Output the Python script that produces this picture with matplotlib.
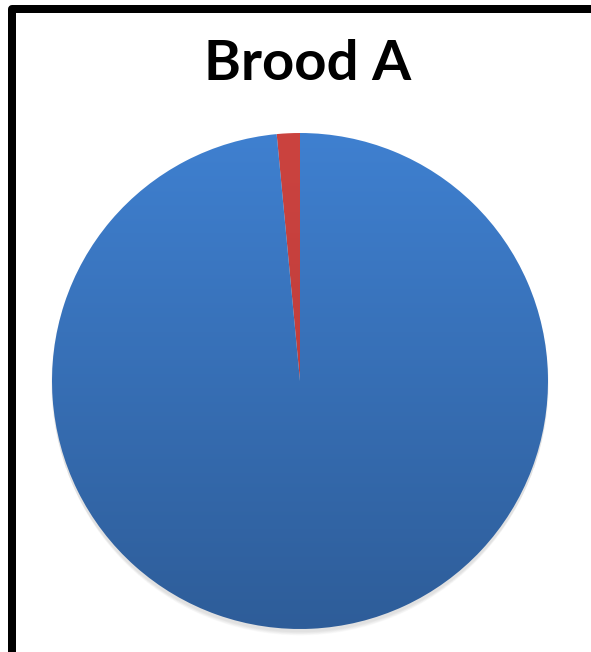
import matplotlib
matplotlib.use("Agg")
import matplotlib.pyplot as plt
import numpy as np
from matplotlib.colors import LinearSegmentedColormap
from matplotlib.patches import Rectangle, Circle

title = "Brood A"
labels = ["Other", "Main"]
values = [1.5, 98.5]
top_colors = ["#CB433F", "#3F80D0"]
bottom_colors = ["#B8393A", "#2E5D99"]

W, H = 591, 652
fig = plt.figure(figsize=(W / 100, H / 100), dpi=100)
ax = fig.add_axes([0, 0, 1, 1])
ax.set_xlim(0, W)
ax.set_ylim(0, H)
ax.set_aspect("equal")
ax.axis("off")

cx, cy, r = 300, H - 381, 248

# soft shadow
for i in range(10):
    ax.add_patch(Circle((cx, cy - 2 - i * 0.6), r + 1 - i * 0.2, color="black",
                        alpha=0.012, lw=0, zorder=1))

wedges, _ = ax.pie(values, startangle=90, counterclock=True, center=(cx, cy),
                   radius=r, frame=True, wedgeprops=dict(linewidth=0))
ax.set_xlim(0, W)
ax.set_ylim(0, H)
ax.axis("off")

grad = np.linspace(0, 1, 256).reshape(-1, 1)
for w, ct, cb in zip(wedges, top_colors, bottom_colors):
    w.set_facecolor("none")
    cmap = LinearSegmentedColormap.from_list("g", [cb, ct])
    im = ax.imshow(grad, cmap=cmap, origin="lower", aspect="auto",
                   extent=(cx - r, cx + r, cy - r, cy + r), zorder=2)
    im.set_clip_path(w)

ax.text(308, H - 80, title, ha="center", va="baseline", fontsize=40.5,
        fontweight="bold", family=["Lato", "DejaVu Sans"], color="black")

# frame
ax.add_patch(Rectangle((12, H - 656), 600, 656 - 9, fill=False, ec="black",
                       lw=8 * 0.72, joinstyle="round", zorder=5, clip_on=False))

fig.savefig("out.png", dpi=100)
